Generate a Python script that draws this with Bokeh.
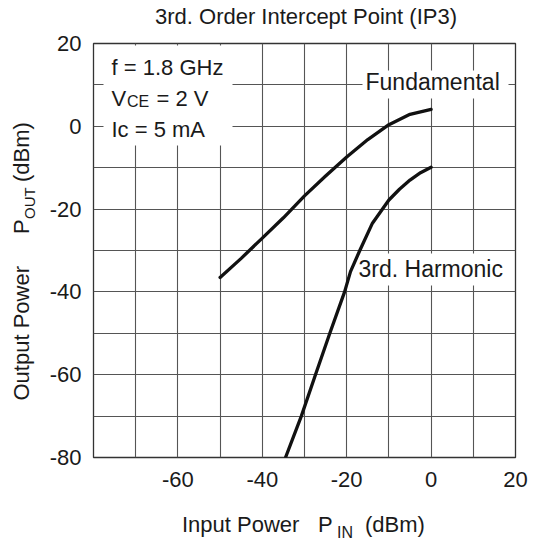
import math
from bokeh.plotting import figure
from bokeh.layouts import column, row
from bokeh.models import Label, BoxAnnotation, FixedTicker, Range1d
from bokeh.embed import file_html
from bokeh.resources import INLINE

# ---------------- data ----------------
fund_pin = [-50, -45, -40, -35, -30, -25, -20, -15, -10, -5, 0]
fund_pout = [-36.5, -31.9, -27.0, -22.1, -16.8, -12.0, -7.4, -3.2, 0.4, 2.9, 4.1]

harm_pin = [-34.5, -30.75, -27.4, -24.0, -20.5, -19.1, -16.9, -13.9, -10, -7.5, -5, -2.5, 0]
harm_pout = [-80, -70, -60, -50, -40, -35.1, -30, -23.4, -17.8, -15.2, -13.0, -11.2, -9.9]

x_ticks = [-60, -40, -20, 0, 20]
y_ticks = [-80, -60, -40, -20, 0, 20]
x_grid = [-70, -60, -50, -40, -30, -20, -10, 0, 10]
y_grid = [-70, -60, -50, -40, -30, -20, -10, 0, 10]

title_text = "3rd. Order Intercept Point (IP3)"
cond_f = "f = 1.8 GHz"
cond_v = ["V", "CE", "= 2 V"]
cond_i = "Ic = 5 mA"
curve_names = ["Fundamental", "3rd. Harmonic"]
x_title = ["Input Power", "P", "IN", "(dBm)"]
y_title = ["Output Power", "P", "OUT", "(dBm)"]

# ---------------- layout (page pixels) ----------------
FONT = "Liberation Sans"
TXT = "#1a1a1a"
K = 0.38             # baseline correction (fraction of font size)
TOTAL_W = 538
TOP_H = 31           # strip holding the title
LEFT_W = 44          # strip holding the y title
BOT_H = 51           # strip holding the x title
ML, MT, FW, FH, MB = 49, 12, 422, 414, 35
MAIN_W = TOTAL_W - LEFT_W
MR = MAIN_W - ML - FW
MAIN_H = MT + FH + MB
FL = LEFT_W + ML     # frame left (page px)
FT = TOP_H + MT      # frame top (page px)
XMIN, XMAX, YMIN, YMAX = -80, 20, -80, 20


def X(px):
    return XMIN + (px - FL) / FW * (XMAX - XMIN)


def Y(py):
    return YMAX - (py - FT) / FH * (YMAX - YMIN)


p = figure(
    width=MAIN_W, height=MAIN_H, title=None, frame_align=False,
    min_border_left=ML, min_border_right=MR,
    min_border_top=MT, min_border_bottom=MB,
    x_range=Range1d(XMIN, XMAX), y_range=Range1d(YMIN, YMAX),
    output_backend="svg", toolbar_location=None,
    background_fill_color="white", border_fill_color="white",
)

# outline
p.outline_line_color = "#333333"
p.outline_line_width = 1.3

# axes
for ax in (p.xaxis[0], p.yaxis[0]):
    ax.axis_line_color = None
    ax.major_tick_line_color = None
    ax.minor_tick_line_color = None
    ax.major_tick_out = 0
    ax.major_tick_in = 0
    ax.major_label_text_font = FONT
    ax.major_label_text_font_size = "22px"
    ax.major_label_text_color = TXT
p.xaxis.ticker = FixedTicker(ticks=x_ticks)
p.yaxis.ticker = FixedTicker(ticks=y_ticks)
p.xaxis.major_label_overrides = {t: str(t) for t in x_ticks}
p.yaxis.major_label_overrides = {t: str(t) for t in y_ticks}
p.xaxis.major_label_standoff = 14
p.yaxis.major_label_standoff = 12

# grid
p.xgrid.ticker = FixedTicker(ticks=x_grid)
p.ygrid.ticker = FixedTicker(ticks=y_grid)
for g in (p.xgrid[0], p.ygrid[0]):
    g.grid_line_color = "#555555"
    g.grid_line_width = 1.1
    g.grid_line_alpha = 1.0

# white boxes behind the in-plot texts
for (l, r, t, b) in [(103, 232, 45, 145), (362, 508, 70, 98), (357, 512, 253, 285)]:
    p.add_layout(BoxAnnotation(left=X(l), right=X(r), top=Y(t), bottom=Y(b),
                               fill_color="white", fill_alpha=1.0,
                               line_color=None, level="underlay"))

# curves
p.line(fund_pin, fund_pout, line_color="#111111", line_width=3.3,
       line_join="round", line_cap="round")
p.line(harm_pin, harm_pout, line_color="#111111", line_width=3.3,
       line_join="round", line_cap="round")


def label(fig, text, x, y, size=22, angle=0.0, align="left"):
    fig.add_layout(Label(x=x, y=y, text=text, text_font=FONT,
                         text_font_size=f"{size}px", text_color=TXT,
                         text_baseline="alphabetic", text_align=align,
                         angle=angle))


def htext(fig, text, px, py, size=22, align="left"):
    """horizontal text in a strip whose data units are page pixels;
    (px, py) is the wanted baseline start."""
    label(fig, text, px, py - K * size, size, 0.0, align)


def vtext(fig, text, px, py, size=22):
    """text rotated 90 deg; (px, py) is the wanted baseline start."""
    label(fig, text, px - K * size, py, size, math.pi / 2)


def txt(text, px, py, size=22):
    label(p, text, X(px), Y(py - K * size), size)


# conditions
txt(cond_f, 111, 75)
txt(cond_v[0], 111, 106.7)
txt(cond_v[1], 126.5, 106.7, size=16)
txt(cond_v[2], 156, 106.7)
txt(cond_i, 111, 137.3)

# curve names
txt(curve_names[0], 365, 90, size=23)
txt(curve_names[1], 358, 277.3, size=23)


def strip(w, h, x0, y0):
    f = figure(width=w, height=h, title=None, frame_align=False,
               x_range=Range1d(x0, x0 + w), y_range=Range1d(y0 + h, y0),
               min_border=0, min_border_left=0, min_border_right=0,
               min_border_top=0, min_border_bottom=0,
               x_axis_location=None, y_axis_location=None,
               output_backend="svg", toolbar_location=None,
               background_fill_color="white", border_fill_color="white")
    f.outline_line_color = None
    f.grid.visible = False
    return f


# title strip (page coordinates)
top = strip(TOTAL_W, TOP_H, 0, 0)
htext(top, title_text, 305.5, 24.8, align="center")

# y title strip (page coordinates)
left = strip(LEFT_W, MAIN_H, 0, TOP_H)
vtext(left, y_title[0], 29.3, 400)
vtext(left, y_title[1], 29.3, 233.5)
vtext(left, y_title[2], 34.8, 218.5, size=15)
vtext(left, y_title[3], 29.3, 181.5)

# x title strip (page coordinates)
bottom = strip(TOTAL_W, BOT_H, 0, TOP_H + MAIN_H)
htext(bottom, x_title[0], 181.5, 532.7)
htext(bottom, x_title[1], 317.5, 532.7)
htext(bottom, x_title[2], 336.5, 538.3, size=16)
htext(bottom, x_title[3], 364.5, 532.7)

layout = column(top, row(left, p, spacing=0), bottom, spacing=0)

open("out.html", "w").write(file_html(layout, INLINE))
